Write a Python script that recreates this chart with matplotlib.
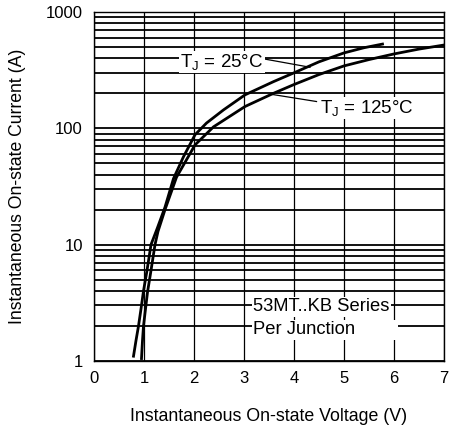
import numpy as np
import matplotlib.pyplot as plt
from matplotlib.ticker import LogLocator, NullFormatter

plt.rcParams['font.family'] = ['Liberation Sans', 'DejaVu Sans']
plt.rcParams['mathtext.fontset'] = 'custom'
plt.rcParams['mathtext.rm'] = 'Liberation Sans'
plt.rcParams['mathtext.it'] = 'Liberation Sans'

v_25 = [0.79, 0.84, 0.89, 0.94, 0.99, 1.06, 1.14, 1.27, 1.42, 1.59, 1.79, 2.02, 2.25, 2.59, 3.02, 3.59, 4.0, 4.5, 5.0, 5.4, 5.77]
i_25 = [1.1, 1.5, 2.0, 2.8, 4.0, 6.0, 10, 14, 21, 37, 57, 88, 111, 144, 194, 252, 300, 373, 445, 493, 530]

v_125 = [0.95, 0.97, 0.99, 1.03, 1.07, 1.14, 1.22, 1.28, 1.42, 1.65, 2.02, 2.39, 3.02, 3.59, 4.0, 4.5, 5.0, 5.5, 6.0, 6.5, 7.0]
i_125 = [1.05, 1.5, 2.0, 2.8, 3.9, 6.0, 10, 13, 20, 38, 72, 103, 154, 200, 238, 290, 344, 390, 436, 480, 520]

xticks = [0, 1, 2, 3, 4, 5, 6, 7]
yticks = [1, 10, 100, 1000]

fig = plt.figure(figsize=(4.54, 4.30), dpi=100)
ax = fig.add_axes([94 / 454, 1 - 361 / 430, 350 / 454, 349 / 430])

ax.set_yscale('log')
ax.set_xlim(0, 7)
ax.set_ylim(1, 1000)

# Rejilla
ax.yaxis.set_minor_locator(LogLocator(base=10, subs=np.arange(2, 10)))
ax.yaxis.set_minor_formatter(NullFormatter())
ax.grid(True, which='both', axis='y', color='black', lw=1.3, zorder=1)
ax.grid(True, which='major', axis='x', color='black', lw=0.9, zorder=1)

ax.plot(v_25, i_25, color='black', lw=2.0, zorder=3)
ax.plot(v_125, i_125, color='black', lw=2.0, zorder=3)

ax.set_xticks(xticks)
ax.set_xticklabels([str(t) for t in xticks])
ax.set_yticks(yticks)
ax.set_yticklabels([str(t) for t in yticks])
ax.tick_params(which='both', length=0, labelsize=12, colors='black')
ax.tick_params(axis='x', pad=7)
ax.tick_params(axis='y', pad=8)
for s in ax.spines.values():
    s.set_linewidth(1.0)

ax.set_xlabel('Instantaneous On-state Voltage (V)', fontsize=12.8, labelpad=16)
ax.set_ylabel('Instantaneous On-state Current (A)', fontsize=12.7, labelpad=14)

# Etiquetas de temperatura
caja = dict(facecolor='white', edgecolor='none', pad=1)
ax.text(2.56, 372, r'$\mathrm{T_J}$ = 25°C', fontsize=13.5, ha='center', va='center', bbox=caja, zorder=4)
ax.plot([3.33, 4.32], [400, 335], color='black', lw=0.9, zorder=3)
ax.text(5.45, 150, r'$\mathrm{T_J}$ = 125°C', fontsize=13.5, ha='center', va='center', bbox=caja, zorder=4)
ax.plot([4.45, 3.55], [170, 196], color='black', lw=0.9, zorder=3)

# Nota
ax.text(3.18, 2.93, '53MT..KB Series', fontsize=13.2, ha='left', va='center', bbox=caja, zorder=4)
ax.text(3.18, 1.85, 'Per Junction        ', fontsize=13.2, ha='left', va='center', bbox=caja, zorder=4)

plt.savefig('out.png', dpi=100)
